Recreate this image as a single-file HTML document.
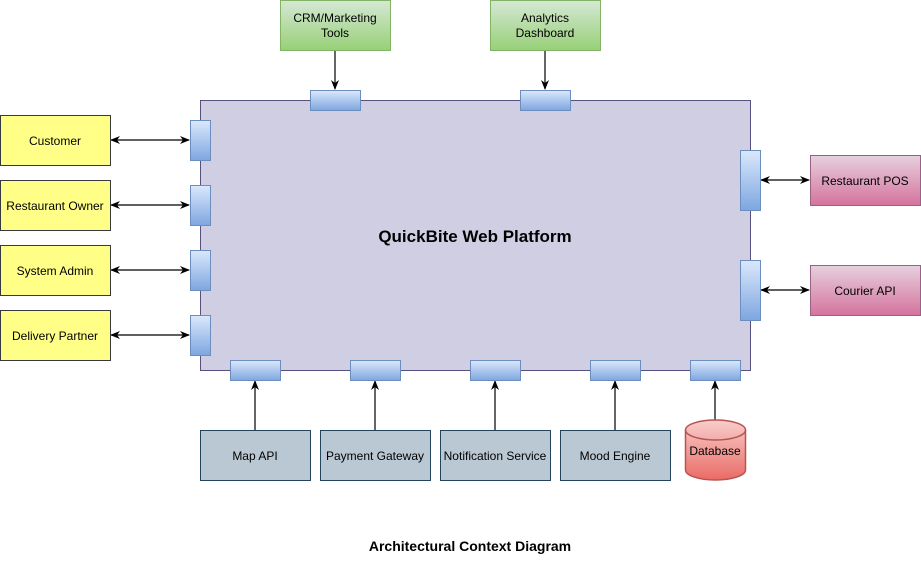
<!DOCTYPE html>
<html><head><meta charset="utf-8"><style>
html,body{margin:0;padding:0;background:#fff;}
svg{display:block;font-family:"Liberation Sans",Arial,sans-serif;}
</style></head><body>
<svg width="921" height="561" viewBox="0 0 921 561" xmlns="http://www.w3.org/2000/svg">
<defs>
<linearGradient id="port" x1="0" y1="0" x2="0" y2="1"><stop offset="0" stop-color="#dae8fc"/><stop offset="1" stop-color="#7ea6e0"/></linearGradient>
<linearGradient id="green" x1="0" y1="0" x2="0" y2="1"><stop offset="0" stop-color="#d5e8d4"/><stop offset="1" stop-color="#97d077"/></linearGradient>
<linearGradient id="pink" x1="0" y1="0" x2="0" y2="1"><stop offset="0" stop-color="#e6d0de"/><stop offset="1" stop-color="#d5739d"/></linearGradient>
<linearGradient id="red" x1="0" y1="0" x2="0" y2="1"><stop offset="0" stop-color="#f8cecc"/><stop offset="1" stop-color="#ea6b66"/></linearGradient>
<marker id="ah" viewBox="0 0 10 10" refX="9" refY="5" markerWidth="10" markerHeight="10" markerUnits="userSpaceOnUse" orient="auto-start-reverse"><path d="M0,1 L10,5 L0,9 L3,5 z" fill="#000"/></marker>
</defs>
<rect x="200.5" y="100.5" width="550" height="270" fill="#d0cee2" stroke="#56517e"/>
<text x="475" y="242" text-anchor="middle" font-size="17" font-weight="bold">QuickBite Web Platform</text>

<g stroke="#000" stroke-width="1.2" fill="none">
<line x1="335" y1="50" x2="335" y2="89" marker-end="url(#ah)"/>
<line x1="545" y1="50" x2="545" y2="89" marker-end="url(#ah)"/>
<line x1="111" y1="140" x2="189" y2="140" marker-start="url(#ah)" marker-end="url(#ah)"/>
<line x1="111" y1="205" x2="189" y2="205" marker-start="url(#ah)" marker-end="url(#ah)"/>
<line x1="111" y1="270" x2="189" y2="270" marker-start="url(#ah)" marker-end="url(#ah)"/>
<line x1="111" y1="335" x2="189" y2="335" marker-start="url(#ah)" marker-end="url(#ah)"/>
<line x1="761" y1="180" x2="809" y2="180" marker-start="url(#ah)" marker-end="url(#ah)"/>
<line x1="761" y1="290" x2="809" y2="290" marker-start="url(#ah)" marker-end="url(#ah)"/>
<line x1="255" y1="430" x2="255" y2="381" marker-end="url(#ah)"/>
<line x1="375" y1="430" x2="375" y2="381" marker-end="url(#ah)"/>
<line x1="495" y1="430" x2="495" y2="381" marker-end="url(#ah)"/>
<line x1="615" y1="430" x2="615" y2="381" marker-end="url(#ah)"/>
<line x1="715" y1="420" x2="715" y2="381" marker-end="url(#ah)"/>
</g>

<g fill="url(#port)" stroke="#6c8ebf">
<rect x="310.5" y="90.5" width="50" height="20"/>
<rect x="520.5" y="90.5" width="50" height="20"/>
<rect x="190.5" y="120.5" width="20" height="40"/>
<rect x="190.5" y="185.5" width="20" height="40"/>
<rect x="190.5" y="250.5" width="20" height="40"/>
<rect x="190.5" y="315.5" width="20" height="40"/>
<rect x="740.5" y="150.5" width="20" height="60"/>
<rect x="740.5" y="260.5" width="20" height="60"/>
<rect x="230.5" y="360.5" width="50" height="20"/>
<rect x="350.5" y="360.5" width="50" height="20"/>
<rect x="470.5" y="360.5" width="50" height="20"/>
<rect x="590.5" y="360.5" width="50" height="20"/>
<rect x="690.5" y="360.5" width="50" height="20"/>
</g>

<g font-size="12" text-anchor="middle">
<g fill="url(#green)" stroke="#82b366"><rect x="280.5" y="0.5" width="110" height="50"/><rect x="490.5" y="0.5" width="110" height="50"/></g>
<text x="335" y="22">CRM/Marketing</text><text x="335" y="37">Tools</text>
<text x="545" y="22">Analytics</text><text x="545" y="37">Dashboard</text>

<g fill="#ffff88" stroke="#36393d">
<rect x="0.5" y="115.5" width="110" height="50"/><rect x="0.5" y="180.5" width="110" height="50"/>
<rect x="0.5" y="245.5" width="110" height="50"/><rect x="0.5" y="310.5" width="110" height="50"/>
</g>
<text x="55" y="145">Customer</text><text x="55" y="210">Restaurant Owner</text>
<text x="55" y="275">System Admin</text><text x="55" y="340">Delivery Partner</text>

<g fill="url(#pink)" stroke="#996185"><rect x="810.5" y="155.5" width="110" height="50"/><rect x="810.5" y="265.5" width="110" height="50"/></g>
<text x="865" y="185">Restaurant POS</text><text x="865" y="295">Courier API</text>

<g fill="#bac8d3" stroke="#23445d">
<rect x="200.5" y="430.5" width="110" height="50"/><rect x="320.5" y="430.5" width="110" height="50"/>
<rect x="440.5" y="430.5" width="110" height="50"/><rect x="560.5" y="430.5" width="110" height="50"/>
</g>
<text x="255" y="460">Map API</text><text x="375" y="460">Payment Gateway</text>
<text x="495" y="460">Notification Service</text><text x="615" y="460">Mood Engine</text>

<path d="M685.5,430 A30,10 0 0 1 745.5,430 L745.5,470 A30,10 0 0 1 685.5,470 Z" fill="url(#red)" stroke="#b85450" stroke-width="1.5"/>
<path d="M685.5,430 A30,10 0 0 0 745.5,430" fill="none" stroke="#b85450" stroke-width="1.5"/>
<text x="715" y="455">Database</text>

<text x="470" y="551" font-size="14" font-weight="bold">Architectural Context Diagram</text>
</g>
</svg>
</body></html>
